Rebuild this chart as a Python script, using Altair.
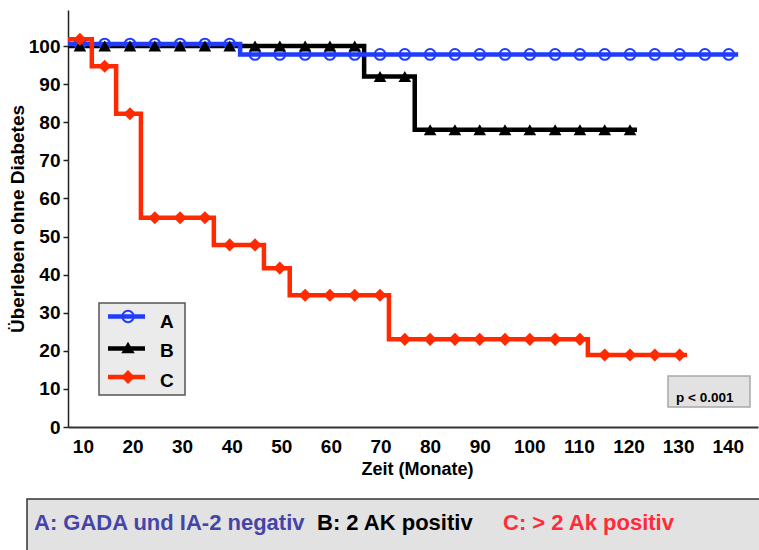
import altair as alt
import pandas as pd

FONT = "Liberation Sans"

# ---- step curves (change points): months, survival without diabetes (%) ----
a_month = [7.0, 41.7, 142.1]
a_surv = [100.5, 97.8, 97.8]
b_month = [7.0, 66.7, 76.9, 121.7]
b_surv = [100.0, 92.0, 78.0, 78.0]
c_month = [7.0, 11.8, 16.7, 21.7, 36.4, 46.5, 51.7, 71.7, 111.8, 131.8]
c_surv = [101.8, 94.7, 82.2, 54.9, 47.8, 41.7, 34.6, 23.0, 18.9, 18.9]

# ---- markers ----
a_mk_month = [9.4, 14.4, 19.5, 24.5, 29.6, 34.6, 39.6, 44.7, 49.7, 54.8, 59.8, 64.8,
              69.9, 74.9, 80.0, 85.0, 90.0, 95.1, 100.1, 105.2, 110.2, 115.2, 120.3,
              125.3, 130.3, 135.4, 140.2]
a_mk_surv = [100.5, 100.5, 100.5, 100.5, 100.5, 100.5, 100.5, 97.8, 97.8, 97.8, 97.8, 97.8,
             97.8, 97.8, 97.8, 97.8, 97.8, 97.8, 97.8, 97.8, 97.8, 97.8, 97.8,
             97.8, 97.8, 97.8, 97.8]
b_mk_month = [9.4, 14.4, 19.5, 24.5, 29.6, 34.6, 39.6, 44.7, 49.7, 54.8, 59.8, 64.8,
              69.9, 74.9, 80.0, 85.0, 90.0, 95.1, 100.1, 105.2, 110.2, 115.2, 120.3]
b_mk_surv = [100, 100, 100, 100, 100, 100, 100, 100, 100, 100, 100, 100,
             92, 92, 78, 78, 78, 78, 78, 78, 78, 78, 78]
c_mk_month = [9.4, 14.4, 19.5, 24.5, 29.6, 34.6, 39.6, 44.7, 49.7, 54.8, 59.8, 64.8,
              69.9, 74.9, 80.0, 85.0, 90.0, 95.1, 100.1, 105.2, 110.2, 115.2, 120.3,
              125.3, 130.3]
c_mk_surv = [101.8, 94.7, 82.2, 54.9, 54.9, 54.9, 47.8, 47.8, 41.7, 34.6, 34.6, 34.6,
             34.6, 23.0, 23.0, 23.0, 23.0, 23.0, 23.0, 23.0, 23.0, 18.9, 18.9,
             18.9, 18.9]

x_ticks = [10, 20, 30, 40, 50, 60, 70, 80, 90, 100, 110, 120, 130, 140]
y_ticks = [0, 10, 20, 30, 40, 50, 60, 70, 80, 90, 100]

groups = ["A", "B", "C"]
captions = ["A: GADA und IA-2 negativ", "B: 2 AK positiv", "C: > 2 Ak positiv"]
p_text = "p < 0.001"

BLUE = "#1f3cff"
BLACK = "#000000"
RED = "#ff2a00"

xscale = alt.Scale(domain=[7.0, 146.1], nice=False, zero=False)
yscale = alt.Scale(domain=[0, 109.45], nice=False, zero=True)

x_axis = alt.Axis(values=x_ticks, title="Zeit (Monate)", grid=False, ticks=False, tickSize=0,
                  labelPadding=10, labelFont=FONT, labelFontSize=19, labelFontWeight="bold",
                  labelColor="black", domainColor="#333333", domainWidth=2,
                  titleFont=FONT, titleFontSize=18, titleFontWeight="bold", titleColor="black",
                  titleX=349, titleY=47, titleAlign="center", titleBaseline="alphabetic",
                  labelFlush=False, labelOverlap=False)
y_axis = alt.Axis(values=y_ticks, title="Überleben ohne Diabetes", grid=False, tickSize=5,
                  tickColor="#222222", tickWidth=1.5, labelPadding=3, labelFont=FONT,
                  labelFontSize=19, labelFontWeight="bold", labelColor="black",
                  domainColor="#222222", domainWidth=1.5,
                  titleFont=FONT, titleFontSize=19, titleFontWeight="bold", titleColor="black",
                  titleX=-51, titleY=208.5, titleAngle=270, titleAlign="center",
                  titleBaseline="middle", labelFlush=False, labelOverlap=False)


def enc(chart):
    return chart.encode(
        x=alt.X("month:Q", scale=xscale, axis=x_axis),
        y=alt.Y("surv:Q", scale=yscale, axis=y_axis),
    )


def curve(months, surv, color):
    df = pd.DataFrame({"month": months, "surv": surv})
    return enc(alt.Chart(df).mark_line(interpolate="step-after", color=color, strokeWidth=4.5,
                                       strokeJoin="miter", strokeCap="butt"))


def markers(months, surv, shape, color, size, filled, sw=0):
    df = pd.DataFrame({"month": months, "surv": surv})
    if filled:
        m = alt.Chart(df).mark_point(shape=shape, filled=True, fill=color, size=size, opacity=1,
                                     fillOpacity=1)
    else:
        m = alt.Chart(df).mark_point(shape=shape, filled=False, stroke=color, strokeWidth=sw,
                                     size=size, opacity=1)
    return enc(m)


one = pd.DataFrame({"k": [0]})

layers = [
    curve(b_month, b_surv, BLACK),
    curve(a_month, a_surv, BLUE),
    curve(c_month, c_surv, RED),
    markers(a_mk_month, a_mk_surv, "circle", BLUE, 115, False, 2),
    markers(b_mk_month, b_mk_surv, "triangle-up", BLACK, 160, True),
    markers(c_mk_month, c_mk_surv, "diamond", RED, 170, True),
]

# ---- legend box (inside plot) ----
layers.append(alt.Chart(one).mark_rect(fill="#ebebeb", stroke="#555555", strokeWidth=1.5).encode(
    x=alt.value(31), x2=alt.value(117), y=alt.value(293), y2=alt.value(385)))
leg_line_y = [306.5, 338.5, 367]
leg_text_y = [311.5, 340.5, 370.5]
leg_colors = [BLUE, BLACK, RED]
for i, g in enumerate(groups):
    layers.append(alt.Chart(one).mark_rule(color=leg_colors[i], strokeWidth=4.5).encode(
        x=alt.value(40), x2=alt.value(77), y=alt.value(leg_line_y[i])))
    layers.append(alt.Chart(one).mark_text(text=g, font=FONT, fontSize=19, fontWeight="bold",
                                           align="left", baseline="middle", color="black").encode(
        x=alt.value(92), y=alt.value(leg_text_y[i])))
layers.append(alt.Chart(one).mark_point(shape="circle", filled=False, stroke=BLUE, strokeWidth=2,
                                        size=130, opacity=1).encode(
    x=alt.value(60), y=alt.value(leg_line_y[0])))
layers.append(alt.Chart(one).mark_point(shape="triangle-up", filled=True, fill=BLACK, size=180,
                                        opacity=1).encode(
    x=alt.value(60), y=alt.value(leg_line_y[1] - 1)))
layers.append(alt.Chart(one).mark_point(shape="diamond", filled=True, fill=RED, size=190,
                                        opacity=1).encode(
    x=alt.value(60), y=alt.value(leg_line_y[2])))

# ---- p-value box ----
layers.append(alt.Chart(one).mark_rect(fill="#e2e2e2", stroke="#a8a8a8", strokeWidth=1.5).encode(
    x=alt.value(600), x2=alt.value(682), y=alt.value(366), y2=alt.value(397)))
layers.append(alt.Chart(one).mark_text(text=p_text, font=FONT, fontSize=13.5, fontWeight="bold",
                                       align="left", baseline="alphabetic", color="black").encode(
    x=alt.value(608), y=alt.value(391.5)))

# ---- caption box below the chart ----
layers.append(alt.Chart(one).mark_rect(fill="#e2e2e2", stroke="#333333", strokeWidth=1.5).encode(
    x=alt.value(-41), x2=alt.value(720), y=alt.value(489), y2=alt.value(560)))
cap_x = [-34, 249, 435]
cap_colors = ["#4545a8", "#000000", "#ff2b3a"]
for i, t in enumerate(captions):
    layers.append(alt.Chart(one).mark_text(text=t, font=FONT, fontSize=22, fontWeight="bold",
                                           align="left", baseline="middle", color=cap_colors[i]).encode(
        x=alt.value(cap_x[i]), y=alt.value(513)))

chart = alt.layer(*layers).properties(
    width=690, height=417,
    autosize=alt.AutoSizeParams(type="none"),
    padding={"left": 68, "top": 10, "right": 1, "bottom": 123},
).configure(font=FONT, background="white", view=alt.ViewConfig(stroke=None))

chart.save("out.html", embed_options={"renderer": "svg", "actions": False})
